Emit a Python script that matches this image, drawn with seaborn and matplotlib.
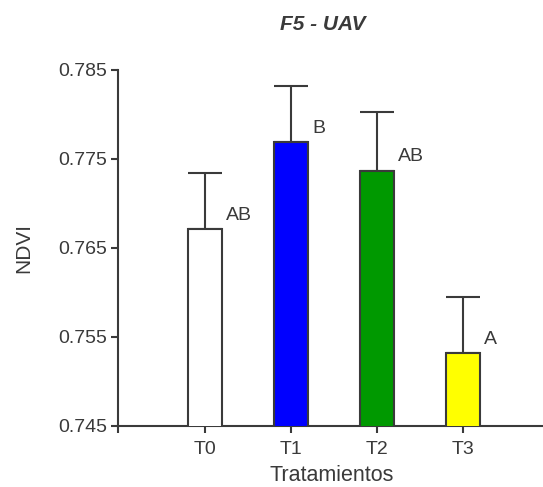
import pandas as pd
import numpy as np
import seaborn as sns
import matplotlib.pyplot as plt

# Data
treatments = ["T0", "T1", "T2", "T3"]
ndvi_mean = [0.7671, 0.7769, 0.7737, 0.7532]
ndvi_err = [0.0063, 0.0063, 0.0066, 0.0063]
letters = ["AB", "B", "AB", "A"]
bar_colors = ["#FFFFFF", "#0000FF", "#009900", "#FFFF00"]

df = pd.DataFrame({"Tratamiento": treatments, "NDVI": ndvi_mean})

sns.set_style("ticks")
plt.rcParams["font.family"] = ["Liberation Sans", "DejaVu Sans"]
dark = "#3a3a3a"
plt.rcParams["text.color"] = dark
plt.rcParams["axes.labelcolor"] = dark
plt.rcParams["xtick.color"] = dark
plt.rcParams["ytick.color"] = dark

fig = plt.figure(figsize=(5.43, 4.87), dpi=100)
ax = fig.add_axes([118 / 543, 1 - 426 / 487, 1 - 118 / 543, (426 - 70) / 487])

sns.barplot(data=df, x="Tratamiento", y="NDVI", hue="Tratamiento",
            palette=bar_colors, saturation=1, legend=False, width=0.4,
            edgecolor=dark, linewidth=1.5, ax=ax, zorder=3)

# upper-only error bars
ax.errorbar(range(len(treatments)), ndvi_mean,
            yerr=[np.zeros(len(ndvi_err)), ndvi_err],
            fmt="none", ecolor=dark, elinewidth=1.5, capsize=12.3,
            capthick=1.5, zorder=2)

# significance letters
for i, (v, lab) in enumerate(zip(ndvi_mean, letters)):
    ax.annotate(lab, xy=(i + 0.2, v), xytext=(3, 10), textcoords="offset points",
                ha="left", va="center", fontsize=14)

ax.set_ylim(0.745, 0.785)
ax.set_yticks([0.745, 0.755, 0.765, 0.775, 0.785])
ax.set_yticklabels(["0.745", "0.755", "0.765", "0.775", "0.785"])
ax.set_xlim(-1.01, 3.93)
ax.set_xticks([-1.01, 0, 1, 2, 3])
ax.set_xticklabels([""] + treatments)

ax.tick_params(axis="both", labelsize=14, width=1.5, length=5, pad=3)
ax.tick_params(axis="x", pad=6)
sns.despine(ax=ax)
for s in ["left", "bottom"]:
    ax.spines[s].set_linewidth(1.5)
    ax.spines[s].set_color(dark)

ax.set_xlabel("Tratamientos", fontsize=15.5)
ax.set_ylabel("NDVI", fontsize=15)
ax.xaxis.set_label_coords((332 - 118) / 425, -0.11)
ax.yaxis.set_label_coords(-0.2, 0.5)

fig.text(323 / 543, 1 - 25 / 487, "F5 - UAV", ha="center", va="center",
         fontsize=15, fontweight="bold", fontstyle="italic")

fig.savefig("out.png", dpi=100)
